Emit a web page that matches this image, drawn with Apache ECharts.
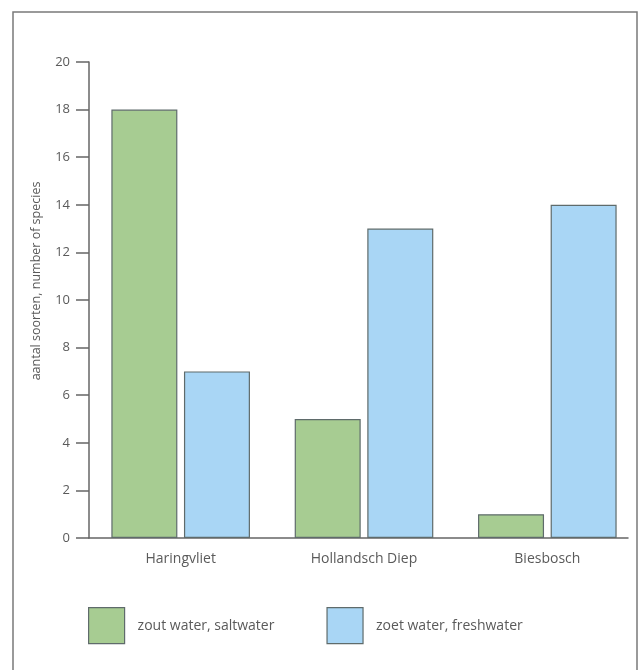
<!DOCTYPE html>
<html>
<head>
<meta charset="utf-8">
<script src="https://cdn.jsdelivr.net/npm/echarts@6/dist/echarts.min.js"></script>
<style>
  html, body { margin: 0; padding: 0; background: #ffffff; }
  #chart { width: 639px; height: 670px; }
</style>
</head>
<body>
<div id="chart"></div>
<script>
// Species counts per area of the delta
const categories = ['Haringvliet', 'Hollandsch Diep', 'Biesbosch'];
const saltwater = [18, 5, 1];
const freshwater = [7, 13, 14];
const seriesNames = ['zout water, saltwater', 'zoet water, freshwater'];
const yTicks = [0, 2, 4, 6, 8, 10, 12, 14, 16, 18, 20];

const GREEN = '#a7cc92';
const BLUE = '#a9d6f5';
const EDGE = '#5f6b6b';
const TEXT = '#5a5a5a';
const FONT = '"Open Sans", "DejaVu Sans", sans-serif';

const chart = echarts.init(document.getElementById('chart'), null, { renderer: 'canvas' });

chart.setOption({
  animation: false,
  backgroundColor: '#ffffff',
  graphic: [{
    type: 'rect',
    shape: { x: 13, y: 12, width: 624, height: 700 },
    style: { fill: 'none', stroke: '#7a7a7a', lineWidth: 1.5 },
    silent: true
  }],
  grid: [
    { left: 89, right: 0, top: 62, bottom: 132 },
    { left: 89, right: 11, top: 62, bottom: 132 }
  ],
  legend: {
    data: seriesNames,
    left: 83,
    top: 602,
    icon: 'rect',
    itemWidth: 36,
    itemHeight: 36,
    itemGap: 52,
    itemStyle: { borderColor: EDGE, borderWidth: 1.2 },
    textStyle: { color: TEXT, fontSize: 14, fontFamily: FONT, padding: [0, 0, 0, 8] }
  },
  xAxis: [{
    type: 'category',
    gridIndex: 0,
    data: categories,
    axisLine: { show: false },
    axisTick: { show: false },
    axisLabel: { color: TEXT, fontSize: 14, fontFamily: FONT, margin: 14 }
  }, {
    type: 'category',
    gridIndex: 1,
    data: [''],
    axisLine: { show: true, lineStyle: { color: '#666666', width: 1.5 } },
    axisTick: { show: false },
    axisLabel: { show: false }
  }],
  yAxis: [{
    type: 'value',
    gridIndex: 0,
    min: 0,
    max: 20,
    interval: 2,
    name: 'aantal soorten, number of species',
    nameLocation: 'middle',
    nameGap: 46,
    nameTextStyle: { color: TEXT, fontSize: 12.5, fontFamily: FONT, padding: [0, 0, 0, 38] },
    axisLine: { show: true, lineStyle: { color: '#666666', width: 1.5 } },
    axisTick: { show: true, length: 13, lineStyle: { color: '#666666', width: 1.5 } },
    axisLabel: {
      color: TEXT, fontSize: 13, fontFamily: FONT, margin: 19,
      formatter: v => (yTicks.includes(v) ? String(v) : '')
    },
    splitLine: { show: false }
  }, {
    type: 'value',
    gridIndex: 1,
    show: false
  }],
  series: [{
    name: seriesNames[0],
    type: 'bar',
    data: saltwater,
    barWidth: 66,
    barGap: '10%',
    itemStyle: { color: GREEN, borderColor: EDGE, borderWidth: 1.2 }
  }, {
    name: seriesNames[1],
    type: 'bar',
    data: freshwater,
    barWidth: 66,
    barGap: '10%',
    itemStyle: { color: BLUE, borderColor: EDGE, borderWidth: 1.2 }
  }]
});
</script>
</body>
</html>
